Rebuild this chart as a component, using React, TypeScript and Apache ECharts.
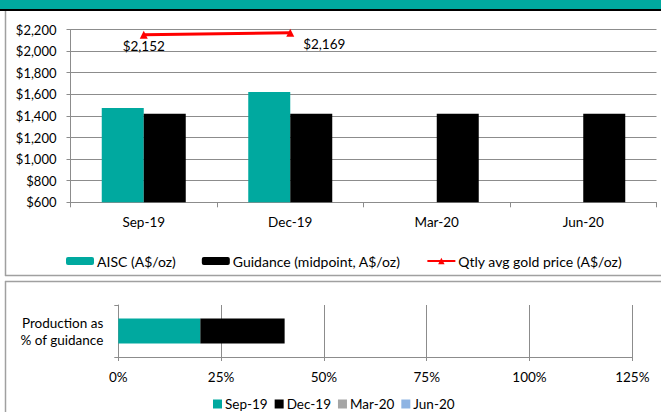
import React, { useEffect, useRef } from "react";
import * as echarts from "echarts";

const categories = ["Sep-19", "Dec-19", "Mar-20", "Jun-20"];
const aiscValues = [1474, 1621, null, null];
const guidanceValues = [1421, 1421, 1421, 1421];
const goldPriceValues = [2152, 2169, null, null];
const goldLabelOffsets = [[0, 0], [34, 0], [0, 0], [0, 0]];

const prodCategory = ["Production as\n% of guidance"];
const prodQuarters = ["Sep-19", "Dec-19", "Mar-20", "Jun-20"];
const prodValues = [19.95, 20.5, 0, 0];
const prodColors = ["#00A99F", "#000000", "#A5A5A5", "#8EB4E3"];

const TEAL = "#00A99F";
const FONT = "Lato, 'Liberation Sans', sans-serif";
const GRID = "#8C8C8C";

export default function App() {
  const ref = useRef<HTMLDivElement>(null);
  useEffect(() => {
    if (!ref.current) return;
    const chart = echarts.init(ref.current, undefined, { renderer: "svg" });
    const txt = { fontFamily: FONT, fontSize: 13, color: "#000" };
    const option: any = {
      animation: false,
      backgroundColor: "#fff",
      textStyle: { fontFamily: FONT },
      graphic: [
        { type: "rect", shape: { x: 0, y: 0, width: 661, height: 9 }, style: { fill: TEAL } },
        { type: "rect", shape: { x: 0, y: 9, width: 661, height: 2 }, style: { fill: "#000" } },
        { type: "line", shape: { x1: 5.5, y1: 11, x2: 5.5, y2: 276 }, style: { stroke: "#A0A0A0", lineWidth: 1.5 } },
        { type: "line", shape: { x1: 5, y1: 275.5, x2: 661, y2: 275.5 }, style: { stroke: "#A0A0A0", lineWidth: 1.5 } },
        { type: "line", shape: { x1: 5, y1: 281.5, x2: 661, y2: 281.5 }, style: { stroke: "#A0A0A0", lineWidth: 1.5 } },
        { type: "line", shape: { x1: 5.5, y1: 281, x2: 5.5, y2: 412 }, style: { stroke: "#A0A0A0", lineWidth: 1.5 } },
      ],
      grid: [
        { left: 70.5, right: 4.5, top: 29.5, height: 172.8, containLabel: false },
        { left: 118.3, right: 28.7, top: 305, height: 52, containLabel: false },
      ],
      legend: [
        {
          data: ["AISC (A$/oz)", "Guidance (midpoint, A$/oz)", "Qtly avg gold price (A$/oz)"],
          left: 61,
          top: 249,
          itemWidth: 28,
          itemHeight: 8,
          itemGap: 26,
          textStyle: { ...txt, fontSize: 14, padding: [0, 0, 0, -2] },
        },
        {
          data: prodQuarters,
          left: 208,
          top: 392,
          itemWidth: 9,
          itemHeight: 9,
          itemGap: 7,
          icon: "rect",
          textStyle: { ...txt, fontSize: 13.5, padding: [0, 0, 0, -2] },
        },
      ],
      xAxis: [
        {
          type: "category",
          gridIndex: 0,
          data: categories,
          axisLine: { lineStyle: { color: GRID } },
          axisTick: { show: true, length: 5, lineStyle: { color: GRID } },
          axisLabel: { ...txt, fontSize: 13.5, margin: 13 },
        },
        {
          type: "value",
          gridIndex: 1,
          min: 0,
          max: 125,
          interval: 25,
          axisLine: { show: true, lineStyle: { color: GRID } },
          axisTick: { show: true, length: 4, lineStyle: { color: GRID } },
          splitLine: { show: true, lineStyle: { color: GRID } },
          axisLabel: { ...txt, fontSize: 13.5, margin: 13, formatter: (v: number) => v + "%" },
        },
      ],
      yAxis: [
        {
          type: "value",
          gridIndex: 0,
          min: 600,
          max: 2200,
          interval: 200,
          axisLine: { show: true, lineStyle: { color: GRID } },
          axisTick: { show: true, length: 4, lineStyle: { color: GRID } },
          splitLine: { show: true, lineStyle: { color: GRID } },
          axisLabel: {
            ...txt,
            margin: 14,
            formatter: (v: number) => "$" + v.toLocaleString("en-US"),
          },
        },
        {
          type: "category",
          gridIndex: 1,
          data: prodCategory,
          axisLine: { show: true, lineStyle: { color: GRID } },
          axisTick: { show: true, length: 4, lineStyle: { color: GRID } },
          axisLabel: { ...txt, fontSize: 13.5, margin: 15, align: "right", lineHeight: 17 },
        },
      ],
      series: [
        {
          name: "AISC (A$/oz)",
          type: "bar",
          xAxisIndex: 0,
          yAxisIndex: 0,
          data: aiscValues,
          barWidth: 42,
          barGap: "0%",
          itemStyle: { color: TEAL },
        },
        {
          name: "Guidance (midpoint, A$/oz)",
          type: "bar",
          xAxisIndex: 0,
          yAxisIndex: 0,
          data: guidanceValues,
          barWidth: 42,
          barGap: "0%",
          itemStyle: { color: "#000" },
        },
        {
          name: "Qtly avg gold price (A$/oz)",
          type: "line",
          xAxisIndex: 0,
          yAxisIndex: 0,
          data: goldPriceValues.map((v, i) => ({
            value: v,
            label: { offset: goldLabelOffsets[i] },
          })),
          symbol: "triangle",
          symbolSize: 8,
          connectNulls: false,
          lineStyle: { color: "#FF0000", width: 3 },
          itemStyle: { color: "#FF0000" },
          label: {
            show: true,
            position: "bottom",
            distance: 0,
            ...txt,
            fontSize: 13.5,
            formatter: (p: any) => "$" + Number(p.value).toLocaleString("en-US"),
          },
        },
        ...prodQuarters.map((q, i) => ({
          name: q,
          type: "bar",
          stack: "prod",
          xAxisIndex: 1,
          yAxisIndex: 1,
          data: [prodValues[i]],
          barWidth: 25,
          itemStyle: { color: prodColors[i] },
        })),
      ],
    };
    chart.setOption(option);
    return () => chart.dispose();
  }, []);
  return (
    <div
      ref={ref}
      style={{ position: "absolute", left: 0, top: 0, width: 661, height: 412 }}
    />
  );
}
